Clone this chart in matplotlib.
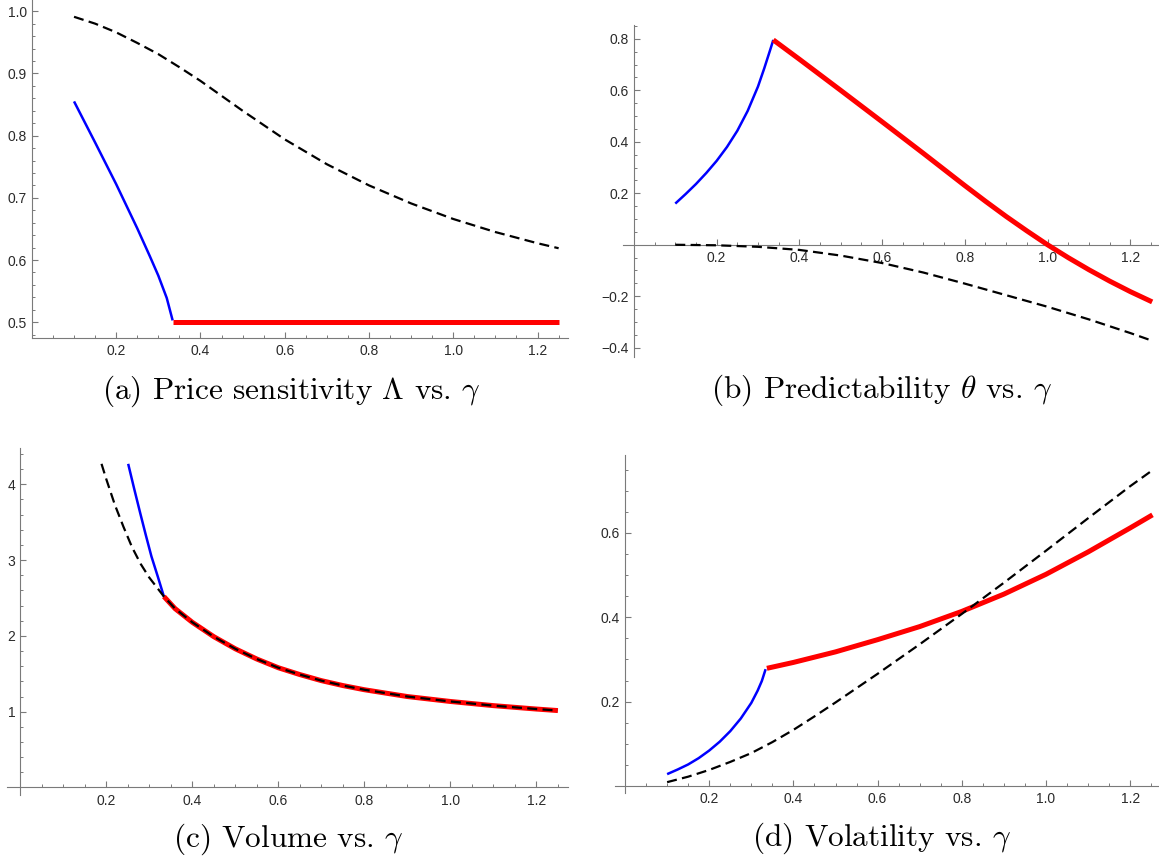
import matplotlib
matplotlib.use("Agg")
import matplotlib.pyplot as plt
import numpy as np

plt.rcParams['mathtext.fontset'] = 'cm'
plt.rcParams['font.family'] = ['Liberation Sans', 'DejaVu Sans']

# ---------------- data ----------------
# (a) Price sensitivity Lambda vs gamma
a_dash_g = [0.1, 0.15, 0.2, 0.25, 0.3, 0.35, 0.4, 0.45, 0.5, 0.55, 0.6, 0.7, 0.8, 0.9, 1.0, 1.1, 1.2, 1.25]
a_dash_v = [0.991, 0.980, 0.966, 0.949, 0.931, 0.910, 0.888, 0.864, 0.840, 0.817, 0.794, 0.754, 0.720, 0.691, 0.666, 0.645, 0.627, 0.619]
a_blue_g = [0.1, 0.15, 0.2, 0.25, 0.28, 0.3, 0.32, 0.334]
a_blue_v = [0.855, 0.789, 0.722, 0.651, 0.606, 0.575, 0.539, 0.503]
a_red_g = [0.334, 1.25]
a_red_v = [0.5, 0.5]

# (b) Predictability theta vs gamma
b_dash_g = [0.1, 0.2, 0.3, 0.4, 0.5, 0.6, 0.7, 0.8, 0.9, 1.0, 1.1, 1.2, 1.253]
b_dash_v = [0.0, -0.002, -0.008, -0.020, -0.042, -0.071, -0.108, -0.151, -0.196, -0.241, -0.290, -0.343, -0.373]
b_blue_g = [0.1, 0.125, 0.15, 0.175, 0.2, 0.225, 0.25, 0.275, 0.3, 0.315, 0.33, 0.337]
b_blue_v = [0.160, 0.197, 0.236, 0.279, 0.326, 0.380, 0.443, 0.520, 0.615, 0.685, 0.760, 0.796]
b_red_g = [0.337, 0.4, 0.5, 0.6, 0.7, 0.8, 0.85, 0.9, 0.95, 1.0, 1.05, 1.1, 1.15, 1.2, 1.253]
b_red_v = [0.796, 0.721, 0.600, 0.478, 0.355, 0.230, 0.169, 0.110, 0.054, 0.0, -0.050, -0.097, -0.141, -0.182, -0.222]

# (c) Volume vs gamma
c_dash_g = [0.189, 0.2, 0.22, 0.24, 0.26, 0.28, 0.3, 0.334, 0.36, 0.4, 0.45, 0.5, 0.55, 0.6, 0.65, 0.7, 0.75,
            0.8, 0.9, 1.0, 1.1, 1.2, 1.25]
c_dash_v = [4.27, 4.07, 3.73, 3.44, 3.17, 2.95, 2.77, 2.52, 2.36, 2.18, 1.99, 1.83, 1.695, 1.58, 1.49, 1.41, 1.345,
            1.29, 1.20, 1.135, 1.08, 1.035, 1.015]
c_blue_g = [0.251, 0.265, 0.279, 0.292, 0.305, 0.32, 0.334]
c_blue_v = [4.27, 3.94, 3.62, 3.33, 3.05, 2.78, 2.52]
c_red_g = [0.334, 0.36, 0.4, 0.45, 0.5, 0.55, 0.6, 0.65, 0.7, 0.75, 0.8, 0.9, 1.0, 1.1, 1.2, 1.25]
c_red_v = [2.52, 2.36, 2.18, 1.99, 1.83, 1.695, 1.58, 1.49, 1.41, 1.345, 1.29, 1.20, 1.135, 1.08, 1.035, 1.015]

# (d) Volatility vs gamma
d_dash_g = [0.1, 0.15, 0.2, 0.25, 0.3, 0.35, 0.4, 0.45, 0.5, 0.6, 0.7, 0.8, 0.9, 1.0, 1.1, 1.2, 1.253]
d_dash_v = [0.009, 0.022, 0.038, 0.057, 0.078, 0.104, 0.133, 0.165, 0.198, 0.266, 0.336, 0.408, 0.482, 0.558, 0.635, 0.711, 0.749]
d_blue_g = [0.1, 0.125, 0.15, 0.175, 0.2, 0.225, 0.25, 0.275, 0.3, 0.315, 0.325, 0.334]
d_blue_v = [0.028, 0.039, 0.051, 0.066, 0.084, 0.105, 0.130, 0.160, 0.197, 0.226, 0.249, 0.277]
d_red_g = [0.337, 0.4, 0.5, 0.6, 0.7, 0.8, 0.9, 1.0, 1.1, 1.2, 1.253]
d_red_v = [0.279, 0.293, 0.318, 0.347, 0.378, 0.414, 0.455, 0.502, 0.555, 0.612, 0.643]

captions = [r'(a) Price sensitivity $\Lambda$ vs. $\gamma$',
            r'(b) Predictability $\theta$ vs. $\gamma$',
            r'(c) Volume vs. $\gamma$',
            r'(d) Volatility vs. $\gamma$']

x_major = [0.2, 0.4, 0.6, 0.8, 1.0, 1.2]
x_labels = ['0.2', '0.4', '0.6', '0.8', '1.0', '1.2']

# ---------------- figure ----------------
W, H = 1159, 859
fig = plt.figure(figsize=(W / 100, H / 100), dpi=100)

def rect(left_px, right_px, top_px, bottom_px):
    return [left_px / W, 1 - bottom_px / H, (right_px - left_px) / W, (bottom_px - top_px) / H]

AX_COL = '#7a7a7a'
LAB_COL = '#2a2a2a'

def style(ax, xlim, ylim, ymaj, ylab, yminor, xaxis_at_zero=True):
    ax.set_xlim(*xlim)
    ax.set_ylim(*ylim)
    for s in ['top', 'right']:
        ax.spines[s].set_visible(False)
    ax.spines['left'].set_position(('data', 0))
    if xaxis_at_zero:
        ax.spines['bottom'].set_position(('data', 0))
    for s in ['left', 'bottom']:
        ax.spines[s].set_color(AX_COL)
        ax.spines[s].set_linewidth(0.8)
    ax.set_xticks(x_major)
    ax.set_xticklabels(x_labels)
    xminor = [m for m in np.round(np.arange(0.05, 1.2501, 0.05), 2) if m not in x_major]
    ax.set_xticks(xminor, minor=True)
    ax.set_yticks(ymaj)
    ax.set_yticklabels(ylab)
    ax.set_yticks(yminor, minor=True)
    ax.tick_params(which='major', direction='in', length=4.2, width=0.8, color=AX_COL,
                   labelcolor=LAB_COL, labelsize=10)
    ax.tick_params(which='minor', direction='in', length=2.3, width=0.7, color=AX_COL)
    ax.tick_params(axis='x', which='major', pad=4.5)
    ax.tick_params(axis='y', which='major', pad=3.5)
    ax.patch.set_alpha(0)

def draw(ax, bg, bv, rg, rv, dg, dv):
    ax.plot(bg, bv, color='#0000ff', lw=1.8, solid_capstyle='butt', zorder=3)
    ax.plot(rg, rv, color='#ff0000', lw=3.6, solid_capstyle='butt', zorder=4)
    ax.plot(dg, dv, color='black', lw=1.6, linestyle=(0, (4.5, 2.4)), zorder=5)

# (a)
axa = fig.add_axes(rect(31.9, 567.9, 0, 337.7))
draw(axa, a_blue_g, a_blue_v, a_red_g, a_red_v, a_dash_g, a_dash_v)
ya_minor = [m for m in np.round(np.arange(0.48, 1.0101, 0.02), 2) if round(m * 10, 6) != round(m * 10)]
style(axa, (0, 1.272), (0.4752, 1.018),
      [0.5, 0.6, 0.7, 0.8, 0.9, 1.0], ['0.5', '0.6', '0.7', '0.8', '0.9', '1.0'],
      ya_minor, xaxis_at_zero=False)

# (b)
axb = fig.add_axes(rect(622.5, 1159.2, 25, 356.7))
draw(axb, b_blue_g, b_blue_v, b_red_g, b_red_v, b_dash_g, b_dash_v)
yb_minor = [m for m in np.round(np.arange(-0.4, 0.8501, 0.05), 2)
            if m not in (-0.4, -0.2, 0.0, 0.2, 0.4, 0.6, 0.8)]
style(axb, (-0.0276, 1.27), (-0.435, 0.854),
      [-0.4, -0.2, 0.2, 0.4, 0.6, 0.8], ['\u22120.4', '\u22120.2', '0.2', '0.4', '0.6', '0.8'],
      yb_minor)

# (c)
axc = fig.add_axes(rect(7.3, 567.8, 448.3, 795.0))
draw(axc, c_blue_g, c_blue_v, c_red_g, c_red_v, c_dash_g, c_dash_v)
yc_minor = [m for m in np.round(np.arange(0.2, 4.41, 0.2), 2) if m not in (1.0, 2.0, 3.0, 4.0)]
style(axc, (-0.03, 1.273), (-0.099, 4.475),
      [1, 2, 3, 4], ['1', '2', '3', '4'], yc_minor)

# (d)
axd = fig.add_axes(rect(614.5, 1158.8, 455, 792.7))
draw(axd, d_blue_g, d_blue_v, d_red_g, d_red_v, d_dash_g, d_dash_v)
yd_minor = [m for m in np.round(np.arange(0.05, 0.7601, 0.05), 2) if m not in (0.2, 0.4, 0.6)]
style(axd, (-0.025, 1.268), (-0.016, 0.785),
      [0.2, 0.4, 0.6], ['0.2', '0.4', '0.6'], yd_minor)

# captions
cap_pos = [(291, 398.5), (882, 397.5), (288, 846.5), (882, 846.0)]
for (cx, cy), txt in zip(cap_pos, captions):
    fig.text(cx / W, 1 - cy / H, txt, ha='center', va='baseline',
             fontsize=22.5, family='cmr10')

fig.savefig('out.png', dpi=100)
